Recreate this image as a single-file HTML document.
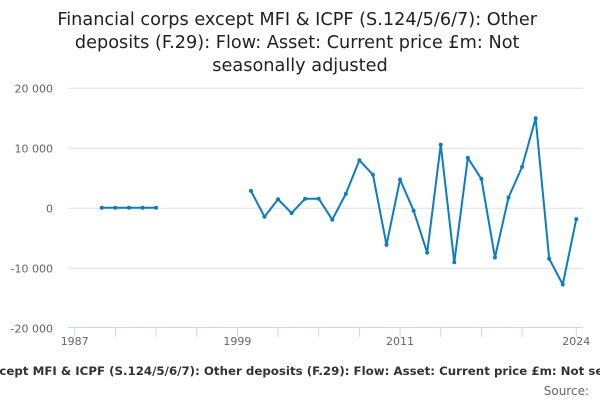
<!DOCTYPE html>
<html><head><meta charset="utf-8"><style>
body{margin:0;background:#fff;}
svg{display:block;font-family:"DejaVu Sans","Liberation Sans",sans-serif;}
</style></head><body>
<svg id="chart" width="600" height="400">
<text x="300" y="25" text-anchor="middle" font-size="17.7" fill="#222">
<tspan x="300" y="25">Financial corps except MFI &amp; ICPF (S.124/5/6/7): Other</tspan>
<tspan x="300" y="48">deposits (F.29): Flow: Asset: Current price £m: Not</tspan>
<tspan x="300" y="71">seasonally adjusted</tspan></text>
<g id="grid"></g><g id="xaxis"></g><g id="series"></g>
<text x="300" y="375" text-anchor="middle" font-size="11.8" font-weight="bold" fill="#333">Financial corps except MFI &amp; ICPF (S.124/5/6/7): Other deposits (F.29): Flow: Asset: Current price £m: Not seasonally adjusted</text>
<text x="589" y="395" text-anchor="end" font-size="12" fill="#666">Source:</text>
</svg>
<script>
const yTicks=[20000,10000,0,-10000,-20000];
const yTickLabels=["20 000","10 000","0","-10 000","-20 000"];
const xTickYears=[1987,1990,1993,1996,1999,2002,2005,2008,2011,2014,2017,2020,2024];
const xLabelYears=[1987,1999,2011,2024];
const years1=[1989,1990,1991,1992,1993];
const values1=[100,100,100,100,100];
const years2=[2000,2001,2002,2003,2004,2005,2006,2007,2008,2009,2010,2011,2012,2013,2014,2015,2016,2017,2018,2019,2020,2021,2022,2023,2024];
const values2=[2900,-1400,1500,-800,1600,1600,-1900,2400,8000,5600,-6100,4800,-400,-7400,10600,-9000,8400,4900,-8200,1800,6900,15000,-8400,-12700,-1800];
const NS="http://www.w3.org/2000/svg";
const X=yr=>74.7+(yr-1987)*(501.6/37);
const Y=v=>208.3-v*0.006;
function mk(t,a,p){const e=document.createElementNS(NS,t);for(const k in a)e.setAttribute(k,a[k]);p.appendChild(e);return e;}
const grid=document.getElementById('grid'),xa=document.getElementById('xaxis'),se=document.getElementById('series');
yTicks.forEach((v,i)=>{
 if(v>-20000){const l=mk('line',{x1:68,x2:583,y1:Y(v),y2:Y(v),stroke:'#e0e0e0','stroke-width':1},grid);
 
 }
 const t=mk('text',{x:53,y:Y(v)+4,'text-anchor':'end','font-size':11,fill:'#666'},grid);
 t.textContent=yTickLabels[i];
 
 
});
const ax=mk('line',{x1:68,x2:583,y1:327.5,y2:327.5,stroke:'#ccd6eb','stroke-width':1},xa);


xTickYears.forEach(yr=>{const l=mk('line',{x1:X(yr),x2:X(yr),y1:327.5,y2:337,stroke:'#ccd6eb','stroke-width':1},xa);
 
 });
xLabelYears.forEach(yr=>{const t=mk('text',{x:X(yr),y:345,'text-anchor':'middle','font-size':11,fill:'#666'},xa);
 t.textContent=yr;
 
 });
[[years1,values1],[years2,values2]].forEach(([ys,vs])=>{
 const p=mk('polyline',{points:ys.map((y,i)=>X(y)+','+Y(vs[i])).join(' '),fill:'none',stroke:'#0b7dc1','stroke-width':2,'stroke-linejoin':'round'},se);
 
 
 ys.forEach((y,i)=>{const c=mk('circle',{cx:X(y),cy:Y(vs[i]),r:2,fill:'#0b7dc1'},se);
 
 });
});
</script>
</body></html>
